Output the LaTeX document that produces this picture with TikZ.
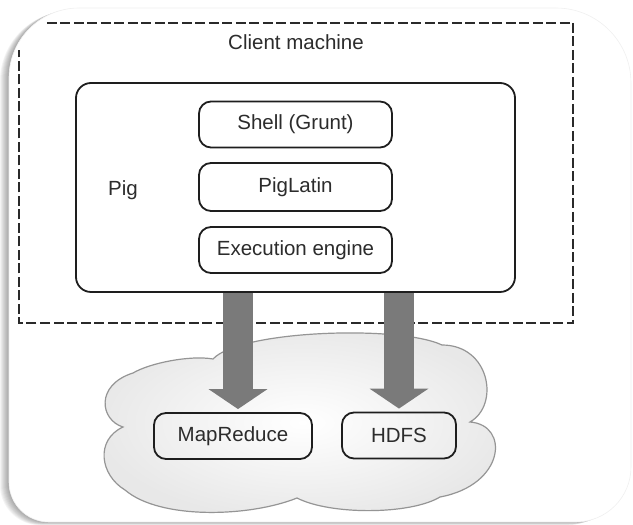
\documentclass[tikz,border=0pt]{standalone}
\usepackage{fontspec}
\setmainfont{Liberation Sans}
\usetikzlibrary{arrows.meta,calc}

\definecolor{inkline}{HTML}{1E1E1E}
\definecolor{labeltext}{HTML}{2C2C2C}
\definecolor{arrowgray}{HTML}{7A7A7A}
\definecolor{cloudedge}{HTML}{959595}
\definecolor{dashink}{HTML}{2A2A2A}

\tikzset{
  outerframe/.pic={
    \path[pic actions] (9,43) -- (9,447) arc[start angle=180,end angle=90,radius=70]
      -- (556,517) arc[start angle=90,end angle=0,radius=75]
      -- (631,58) arc[start angle=0,end angle=-90,radius=55]
      -- (49,3) arc[start angle=270,end angle=180,radius=40] -- cycle;
  },
  labelfont/.style={font=\fontsize{20.5}{24}\selectfont, text=labeltext},
  pigbox/.style={draw=inkline, line width=1.8pt, rounded corners=15pt},
  layerbox/.style={draw=inkline, line width=1.8pt, rounded corners=12pt,
    minimum width=193pt, minimum height=46pt, inner sep=2pt, labelfont},
  clientdash/.style={draw=dashink, line width=2pt, dash pattern=on 10pt off 3.5pt},
  bigarrow/.style={draw=arrowgray, line width=30pt,
    -{Triangle[width=58pt,length=20pt]}},
}

\begin{document}
\begin{tikzpicture}[x=1pt,y=1pt]
  \useasboundingbox (0,0) rectangle (633,525);

  % soft shadow falling to the left and below the card
  \foreach \k in {1,...,9}
    \pic[fill=black, opacity=0.045] at (-\k*1pt,-\k*0.35pt) {outerframe};
  % the white card itself
  \pic[fill=white, draw=black!6, line width=0.6pt] at (0,0) {outerframe};

  % cluster cloud
  \draw[cloudedge, line width=1.2pt, inner color=white, outer color=white!91!black]
    (213,166) .. controls (240,195) and (400,200) .. (442,180)
    .. controls (490,180) and (500,120) .. (470,103)
    .. controls (510,100) and (505,40) .. (440,28)
    .. controls (410,10) and (330,10) .. (297,27)
    .. controls (250,8) and (160,5) .. (125,35)
    .. controls (100,50) and (95,85) .. (123,98)
    .. controls (100,105) and (95,140) .. (133,152)
    .. controls (150,162) and (190,170) .. (213,166) -- cycle;

  % client machine boundary
  \node[minimum width=554pt, minimum height=300pt, inner sep=0pt] (client) at (296,352) {};
  \draw[clientdash] ([xshift=28pt]client.north west) -- (client.north east)
    -- (client.south east) -- (client.south west) -- ([yshift=-27pt]client.north west);
  \node[labelfont] (clientlbl) at (296,483) {Client machine};

  % cluster services
  \node[layerbox, minimum width=158pt] (mr) at (233,89) {MapReduce};
  \node[layerbox, minimum width=114pt] (hdfs) at (399,89.5) {HDFS};

  % Pig block
  \node[pigbox, minimum width=439pt, minimum height=209pt, inner sep=0pt] (pig) at (295.5,337.5) {};
  \node[labelfont] (piglbl) at (123,335) {Pig};
  \node[layerbox] (shell) at (295.5,400.5) {Shell (Grunt)};
  \node[layerbox, minimum height=48pt] (latin) at (295.5,338) {PigLatin};
  \node[layerbox] (exec) at (295.5,275) {Execution engine};

  % block arrows from Pig down to the cluster
  \draw[bigarrow] ($(pig.south -| mr.north)+(5,0)$) -- ($(mr.north)+(5,3)$);
  \draw[bigarrow] (pig.south -| hdfs.north) -- ($(hdfs.north)+(0,3)$);
\end{tikzpicture}
\end{document}
